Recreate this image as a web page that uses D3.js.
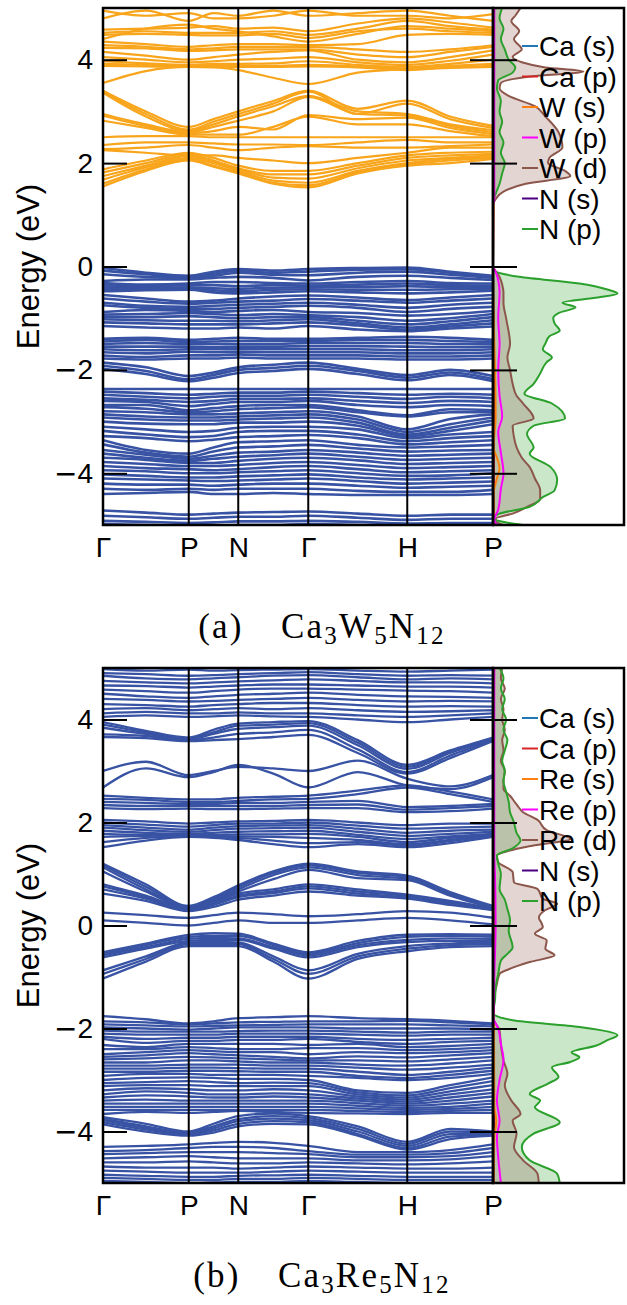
<!DOCTYPE html>
<html><head><meta charset="utf-8">
<script src="https://cdn.jsdelivr.net/npm/d3@7"></script>
<style>body{margin:0;background:#fff}svg{display:block}</style>
</head><body>
<svg id="c" width="627" height="1305"></svg>
<script>
// ---------- k-path ----------
const kLabels = ["Γ","P","N","Γ","H","P"];
const kNodes = [0, 0.866, 1.366, 2.073, 3.073, 3.939];
const kSamples = [0, 0.433, 0.866, 1.116, 1.366, 1.72, 2.073, 2.573, 3.073, 3.506, 3.939];
const yTicks = [-4, -2, 0, 2, 4];

// ---------- (a) Ca3W5N12 bands ----------
const bandsA_cond = [
 [3.40,3.00,2.70,2.85,3.00,3.20,3.40,3.05,3.21,2.90,2.72],
 [3.38,2.95,2.65,2.80,2.95,3.15,3.38,2.95,3.15,2.85,2.68],
 [3.36,2.90,2.62,2.75,2.90,3.10,3.30,3.00,2.95,2.75,2.64],
 [2.95,2.75,2.60,2.70,2.82,3.00,3.28,2.95,2.92,2.72,2.60],
 [2.92,2.72,2.58,2.62,2.70,2.65,2.93,2.85,2.88,2.68,2.56],
 [2.82,2.68,2.55,2.55,2.55,2.70,2.90,2.75,2.75,2.62,2.52],
 [2.50,2.52,2.52,2.50,2.50,2.50,2.50,2.50,2.50,2.50,2.50],
 [2.35,2.40,2.40,2.38,2.36,2.36,2.35,2.40,2.45,2.40,2.40],
 [2.27,2.30,2.35,2.30,2.25,2.30,2.33,2.30,2.30,2.33,2.36],
 [2.25,2.20,2.15,2.15,2.10,2.05,2.00,2.10,2.20,2.30,2.30],
 [1.88,2.05,2.20,2.10,1.95,1.85,1.85,2.00,2.15,2.20,2.22],
 [1.82,2.00,2.17,2.05,1.90,1.78,1.78,1.95,2.10,2.15,2.18],
 [1.75,1.95,2.14,2.02,1.88,1.72,1.70,1.90,2.05,2.10,2.15],
 [1.68,1.92,2.10,2.00,1.85,1.66,1.62,1.85,2.00,2.08,2.12],
 [1.60,1.88,2.08,1.95,1.82,1.62,1.57,1.82,1.97,2.05,2.10],
 [1.55,1.85,2.05,1.93,1.80,1.60,1.53,1.80,1.95,2.00,2.08],
 [4.80,4.95,4.75,4.90,4.85,4.95,4.85,4.90,4.95,4.85,4.75],
 [4.95,4.85,4.90,4.80,4.80,4.85,4.95,4.85,4.85,4.80,4.88],
 [4.58,4.60,4.62,4.65,4.60,4.62,4.55,4.70,4.80,4.72,4.62],
 [4.52,4.55,4.52,4.52,4.52,4.55,4.48,4.60,4.75,4.65,4.58],
 [4.48,4.50,4.48,4.47,4.47,4.50,4.42,4.55,4.60,4.55,4.52],
 [4.40,4.60,4.68,4.60,4.55,4.45,4.35,4.50,4.65,4.60,4.55],
 [4.35,4.30,4.25,4.28,4.30,4.30,4.28,4.30,4.48,4.50,4.48],
 [4.28,4.25,4.20,4.22,4.25,4.25,4.25,4.20,4.15,4.20,4.28],
 [4.23,4.22,4.17,4.18,4.20,4.20,4.20,4.10,4.05,4.15,4.25],
 [4.15,4.08,4.00,4.05,4.10,4.15,4.18,4.00,3.95,4.05,4.18],
 [4.05,4.00,3.95,3.97,4.00,4.02,4.05,3.95,3.90,3.98,4.10],
 [3.97,3.93,3.90,3.92,3.92,3.93,3.97,3.90,3.86,3.92,4.00],
 [3.92,3.90,3.88,3.88,3.88,3.88,3.90,3.87,3.83,3.88,3.92],
 [3.88,3.87,3.86,3.86,3.86,3.86,3.87,3.85,3.80,3.85,3.88],
 [3.55,3.78,3.86,3.85,3.80,3.65,3.53,3.75,3.82,3.84,3.86]
];
const bandsA_val = [
 [-0.03,-0.12,-0.18,-0.10,-0.05,-0.08,-0.05,-0.03,-0.02,-0.10,-0.18],
 [-0.08,-0.15,-0.20,-0.14,-0.08,-0.12,-0.10,-0.06,-0.05,-0.12,-0.20],
 [-0.15,-0.20,-0.22,-0.18,-0.12,-0.16,-0.17,-0.12,-0.10,-0.16,-0.22],
 [-0.28,-0.25,-0.25,-0.22,-0.20,-0.22,-0.27,-0.20,-0.18,-0.22,-0.26],
 [-0.32,-0.35,-0.33,-0.30,-0.30,-0.32,-0.33,-0.30,-0.28,-0.32,-0.33],
 [-0.36,-0.38,-0.36,-0.36,-0.38,-0.36,-0.37,-0.35,-0.33,-0.36,-0.37],
 [-0.40,-0.41,-0.40,-0.42,-0.43,-0.41,-0.40,-0.40,-0.38,-0.40,-0.40],
 [-0.44,-0.43,-0.42,-0.46,-0.48,-0.45,-0.44,-0.45,-0.45,-0.44,-0.43],
 [-0.48,-0.46,-0.45,-0.50,-0.52,-0.50,-0.48,-0.50,-0.52,-0.50,-0.47],
 [-0.55,-0.62,-0.68,-0.66,-0.62,-0.58,-0.56,-0.60,-0.65,-0.60,-0.55],
 [-0.62,-0.68,-0.72,-0.70,-0.68,-0.66,-0.63,-0.66,-0.70,-0.66,-0.62],
 [-0.70,-0.76,-0.78,-0.76,-0.74,-0.72,-0.70,-0.74,-0.80,-0.74,-0.70],
 [-0.75,-0.80,-0.82,-0.82,-0.80,-0.78,-0.76,-0.80,-0.88,-0.82,-0.78],
 [-0.88,-0.84,-0.86,-0.88,-0.86,-0.84,-0.88,-0.90,-0.95,-0.92,-0.86],
 [-0.93,-0.92,-0.90,-0.92,-0.94,-0.92,-0.94,-0.98,-1.05,-1.00,-0.92],
 [-0.98,-0.98,-0.96,-0.98,-1.00,-0.98,-0.98,-1.05,-1.12,-1.06,-0.98],
 [-1.02,-1.04,-1.05,-1.05,-1.06,-1.04,-1.02,-1.10,-1.18,-1.12,-1.04],
 [-1.08,-1.10,-1.12,-1.12,-1.12,-1.10,-1.08,-1.14,-1.22,-1.16,-1.10],
 [-1.15,-1.18,-1.20,-1.20,-1.18,-1.20,-1.15,-1.22,-1.25,-1.20,-1.16],
 [-1.40,-1.38,-1.42,-1.40,-1.38,-1.40,-1.40,-1.38,-1.36,-1.38,-1.42],
 [-1.45,-1.42,-1.46,-1.45,-1.44,-1.44,-1.44,-1.42,-1.42,-1.44,-1.46],
 [-1.50,-1.48,-1.50,-1.50,-1.50,-1.50,-1.48,-1.48,-1.48,-1.50,-1.50],
 [-1.55,-1.55,-1.55,-1.56,-1.55,-1.55,-1.54,-1.54,-1.55,-1.56,-1.55],
 [-1.60,-1.62,-1.60,-1.60,-1.60,-1.60,-1.60,-1.60,-1.62,-1.62,-1.60],
 [-1.66,-1.68,-1.65,-1.66,-1.65,-1.66,-1.66,-1.66,-1.68,-1.68,-1.66],
 [-1.72,-1.75,-1.72,-1.72,-1.70,-1.72,-1.72,-1.72,-1.74,-1.74,-1.72],
 [-1.78,-1.80,-1.78,-1.78,-1.76,-1.78,-1.78,-1.78,-1.80,-1.80,-1.78],
 [-1.86,-1.95,-2.12,-2.05,-1.95,-1.90,-1.86,-1.98,-2.10,-2.00,-2.12],
 [-1.92,-2.02,-2.18,-2.10,-2.00,-1.96,-1.92,-2.02,-2.15,-2.05,-2.18],
 [-1.98,-2.08,-2.22,-2.15,-2.06,-2.02,-1.98,-2.08,-2.20,-2.10,-2.22],
 [-2.37,-2.37,-2.37,-2.37,-2.37,-2.37,-2.37,-2.37,-2.37,-2.37,-2.37],
 [-2.42,-2.45,-2.48,-2.46,-2.44,-2.44,-2.42,-2.45,-2.48,-2.46,-2.48],
 [-2.48,-2.52,-2.55,-2.52,-2.50,-2.50,-2.48,-2.52,-2.56,-2.52,-2.55],
 [-2.55,-2.58,-2.62,-2.60,-2.56,-2.56,-2.55,-2.60,-2.64,-2.60,-2.62],
 [-2.60,-2.62,-2.70,-2.66,-2.62,-2.62,-2.60,-2.68,-2.72,-2.68,-2.70],
 [-2.68,-2.68,-2.78,-2.74,-2.70,-2.68,-2.68,-2.78,-2.88,-2.76,-2.78],
 [-2.72,-2.75,-2.82,-2.80,-2.76,-2.74,-2.72,-2.82,-2.90,-2.82,-2.82],
 [-2.80,-2.82,-2.86,-2.86,-2.84,-2.82,-2.80,-2.90,-3.15,-2.95,-2.86],
 [-2.86,-2.90,-2.92,-2.92,-2.90,-2.88,-2.86,-2.96,-3.20,-3.05,-2.92],
 [-2.92,-2.96,-2.98,-2.98,-2.96,-2.94,-2.92,-3.02,-3.25,-3.12,-2.98],
 [-3.00,-3.04,-3.05,-3.05,-3.02,-3.02,-3.00,-3.08,-3.28,-3.18,-3.05],
 [-3.10,-3.15,-3.20,-3.18,-3.12,-3.10,-3.10,-3.15,-3.32,-3.25,-3.20],
 [-3.18,-3.25,-3.30,-3.28,-3.20,-3.18,-3.18,-3.25,-3.38,-3.32,-3.28],
 [-3.28,-3.32,-3.38,-3.35,-3.30,-3.28,-3.26,-3.32,-3.44,-3.40,-3.36],
 [-3.36,-3.55,-3.62,-3.50,-3.40,-3.38,-3.36,-3.45,-3.50,-3.48,-3.45],
 [-3.44,-3.60,-3.68,-3.58,-3.50,-3.48,-3.45,-3.52,-3.58,-3.56,-3.55],
 [-3.55,-3.64,-3.72,-3.66,-3.60,-3.58,-3.55,-3.60,-3.66,-3.64,-3.62],
 [-3.62,-3.70,-3.76,-3.72,-3.68,-3.65,-3.62,-3.68,-3.74,-3.72,-3.70],
 [-3.70,-3.74,-3.80,-3.80,-3.76,-3.72,-3.70,-3.75,-3.82,-3.80,-3.78],
 [-3.78,-3.82,-3.86,-3.86,-3.84,-3.80,-3.78,-3.84,-3.90,-3.88,-3.86],
 [-3.86,-3.90,-3.92,-3.94,-3.92,-3.88,-3.86,-3.92,-3.98,-3.96,-3.94],
 [-3.94,-3.96,-4.00,-4.00,-3.98,-3.96,-3.94,-4.00,-4.05,-4.04,-4.00],
 [-4.02,-4.05,-4.08,-4.08,-4.06,-4.04,-4.02,-4.08,-4.12,-4.10,-4.08],
 [-4.10,-4.12,-4.14,-4.15,-4.14,-4.12,-4.10,-4.15,-4.20,-4.18,-4.16],
 [-4.20,-4.22,-4.22,-4.24,-4.22,-4.20,-4.20,-4.24,-4.28,-4.26,-4.24],
 [-4.30,-4.32,-4.30,-4.32,-4.30,-4.30,-4.30,-4.34,-4.36,-4.36,-4.32],
 [-4.40,-4.38,-4.36,-4.40,-4.40,-4.38,-4.40,-4.42,-4.42,-4.42,-4.40],
 [-4.72,-4.76,-4.80,-4.78,-4.76,-4.75,-4.74,-4.78,-4.82,-4.80,-4.80],
 [-4.82,-4.85,-4.88,-4.86,-4.84,-4.84,-4.82,-4.86,-4.90,-4.88,-4.88],
 [-4.92,-4.94,-4.96,-4.95,-4.93,-4.93,-4.92,-4.94,-4.97,-4.96,-4.96],
 [-4.98,-5.00,-5.02,-5.01,-5.00,-5.00,-4.98,-5.00,-5.02,-5.02,-5.02]
];

// ---------- (b) Ca3Re5N12 bands ----------
const bandsB = [
 [4.98,4.95,4.97,4.95,4.96,4.97,4.98,4.95,4.93,4.95,4.97],
 [4.90,4.88,4.85,4.86,4.88,4.90,4.92,4.88,4.85,4.86,4.85],
 [4.85,4.80,4.78,4.80,4.82,4.85,4.86,4.82,4.78,4.80,4.78],
 [4.75,4.72,4.70,4.72,4.74,4.76,4.78,4.75,4.72,4.72,4.70],
 [4.66,4.65,4.62,4.64,4.66,4.68,4.68,4.66,4.64,4.64,4.62],
 [4.58,4.55,4.52,4.55,4.58,4.60,4.60,4.58,4.56,4.55,4.52],
 [4.50,4.45,4.42,4.45,4.48,4.50,4.52,4.48,4.45,4.44,4.42],
 [4.40,4.38,4.35,4.36,4.38,4.40,4.42,4.38,4.35,4.36,4.35],
 [4.30,4.28,4.25,4.28,4.30,4.32,4.32,4.28,4.25,4.26,4.25],
 [4.20,4.22,4.18,4.20,4.22,4.20,4.22,4.18,4.15,4.16,4.18],
 [4.12,4.15,4.12,4.12,4.14,4.12,4.12,4.08,4.05,4.08,4.12],
 [4.05,4.08,4.05,4.06,4.08,4.06,4.05,4.00,3.95,4.00,4.05],
 [3.95,3.78,3.65,3.80,3.92,3.95,3.97,3.60,3.12,3.40,3.65],
 [3.90,3.75,3.63,3.75,3.88,3.90,3.93,3.55,3.08,3.38,3.63],
 [3.84,3.72,3.62,3.72,3.82,3.85,3.88,3.50,3.04,3.35,3.62],
 [3.71,3.68,3.60,3.65,3.72,3.75,3.80,3.42,2.98,3.30,3.60],
 [3.66,3.64,3.58,3.60,3.62,3.66,3.70,3.35,2.95,3.25,3.58],
 [3.00,3.18,2.92,3.00,3.08,3.05,3.00,3.20,2.85,2.70,2.92],
 [2.68,3.05,2.88,2.98,3.12,2.95,2.68,2.98,2.72,2.65,2.88],
 [2.52,2.48,2.45,2.45,2.48,2.50,2.52,2.62,2.72,2.60,2.45],
 [2.46,2.44,2.40,2.40,2.42,2.45,2.46,2.55,2.68,2.55,2.40],
 [2.40,2.38,2.36,2.36,2.38,2.38,2.40,2.42,2.30,2.32,2.36],
 [2.34,2.32,2.32,2.32,2.32,2.32,2.34,2.35,2.25,2.28,2.32],
 [2.28,2.26,2.27,2.26,2.26,2.27,2.28,2.28,2.20,2.22,2.27],
 [2.05,2.02,1.98,2.00,2.02,2.03,2.05,2.00,1.95,1.98,1.98],
 [2.00,1.96,1.92,1.95,1.98,1.98,2.00,1.94,1.88,1.90,1.92],
 [1.95,1.90,1.86,1.90,1.93,1.94,1.95,1.88,1.80,1.84,1.86],
 [1.90,1.85,1.82,1.85,1.88,1.89,1.90,1.82,1.74,1.78,1.82],
 [1.84,1.80,1.78,1.80,1.82,1.83,1.84,1.76,1.68,1.73,1.78],
 [1.78,1.76,1.76,1.76,1.77,1.77,1.78,1.72,1.62,1.70,1.76],
 [1.72,1.74,1.75,1.74,1.73,1.72,1.70,1.66,1.58,1.66,1.75],
 [1.62,1.70,1.74,1.72,1.70,1.65,1.60,1.62,1.55,1.64,1.74],
 [1.52,1.65,1.72,1.70,1.66,1.58,1.52,1.58,1.52,1.60,1.72],
 [1.20,0.80,0.38,0.55,0.78,1.05,1.20,1.05,0.97,0.65,0.38],
 [1.17,0.75,0.36,0.52,0.74,1.02,1.17,1.02,0.94,0.62,0.36],
 [1.13,0.70,0.35,0.50,0.70,0.98,1.13,0.98,0.91,0.60,0.35],
 [1.05,0.66,0.34,0.48,0.66,0.90,1.08,0.92,0.88,0.58,0.34],
 [0.80,0.58,0.33,0.45,0.62,0.70,0.80,0.70,0.60,0.48,0.33],
 [0.76,0.55,0.32,0.42,0.58,0.66,0.76,0.66,0.57,0.45,0.32],
 [0.70,0.52,0.30,0.40,0.55,0.63,0.72,0.62,0.54,0.42,0.31],
 [0.62,0.48,0.28,0.36,0.50,0.58,0.66,0.58,0.52,0.40,0.30],
 [0.25,0.20,0.15,0.20,0.25,0.22,0.18,0.22,0.28,0.25,0.15],
 [0.10,0.05,0.00,0.05,0.10,0.05,0.05,0.10,0.15,0.10,0.02],
 [-0.52,-0.35,-0.18,-0.15,-0.16,-0.35,-0.52,-0.30,-0.18,-0.17,-0.18],
 [-0.55,-0.38,-0.22,-0.20,-0.20,-0.38,-0.55,-0.34,-0.22,-0.20,-0.22],
 [-0.58,-0.42,-0.26,-0.24,-0.25,-0.42,-0.58,-0.38,-0.28,-0.25,-0.26],
 [-0.62,-0.45,-0.30,-0.28,-0.28,-0.45,-0.62,-0.42,-0.32,-0.30,-0.30],
 [-0.87,-0.60,-0.33,-0.32,-0.33,-0.60,-0.87,-0.55,-0.40,-0.35,-0.33],
 [-0.94,-0.65,-0.36,-0.36,-0.36,-0.65,-0.94,-0.60,-0.45,-0.38,-0.36],
 [-1.03,-0.70,-0.40,-0.40,-0.40,-0.70,-1.03,-0.65,-0.50,-0.42,-0.40],
 [-1.76,-1.82,-1.90,-1.86,-1.80,-1.78,-1.76,-1.80,-1.82,-1.85,-1.90],
 [-1.86,-1.88,-1.92,-1.90,-1.88,-1.87,-1.86,-1.86,-1.85,-1.88,-1.92],
 [-1.92,-1.94,-1.96,-1.95,-1.94,-1.93,-1.92,-1.92,-1.92,-1.94,-1.96],
 [-1.98,-2.00,-2.02,-2.00,-1.98,-1.98,-1.98,-2.00,-2.00,-2.00,-2.02],
 [-2.04,-2.06,-2.06,-2.06,-2.05,-2.04,-2.04,-2.06,-2.08,-2.06,-2.06],
 [-2.10,-2.12,-2.12,-2.12,-2.10,-2.10,-2.10,-2.12,-2.14,-2.12,-2.12],
 [-2.16,-2.20,-2.18,-2.18,-2.16,-2.16,-2.16,-2.20,-2.22,-2.20,-2.18],
 [-2.20,-2.28,-2.24,-2.24,-2.22,-2.22,-2.20,-2.26,-2.30,-2.26,-2.24],
 [-2.32,-2.36,-2.30,-2.30,-2.30,-2.30,-2.32,-2.30,-2.36,-2.34,-2.30],
 [-2.40,-2.40,-2.36,-2.38,-2.40,-2.40,-2.38,-2.38,-2.42,-2.40,-2.36],
 [-2.50,-2.46,-2.42,-2.44,-2.46,-2.46,-2.50,-2.46,-2.48,-2.46,-2.42],
 [-2.55,-2.52,-2.48,-2.50,-2.52,-2.55,-2.58,-2.54,-2.56,-2.52,-2.48],
 [-2.60,-2.58,-2.55,-2.56,-2.58,-2.60,-2.62,-2.62,-2.64,-2.60,-2.55],
 [-2.66,-2.66,-2.62,-2.62,-2.64,-2.66,-2.66,-2.70,-2.72,-2.68,-2.62],
 [-2.72,-2.72,-2.70,-2.70,-2.70,-2.72,-2.72,-2.76,-2.80,-2.76,-2.70],
 [-2.78,-2.78,-2.76,-2.76,-2.77,-2.78,-2.78,-2.84,-2.90,-2.84,-2.76],
 [-2.84,-2.84,-2.82,-2.82,-2.83,-2.84,-2.84,-2.92,-2.96,-2.90,-2.82],
 [-2.92,-2.88,-2.88,-2.90,-2.90,-2.90,-2.92,-2.96,-3.00,-2.96,-2.88],
 [-3.00,-2.96,-2.95,-2.96,-2.98,-2.98,-3.00,-3.20,-3.25,-3.10,-2.95],
 [-3.06,-3.04,-3.02,-3.04,-3.06,-3.05,-3.06,-3.24,-3.30,-3.16,-3.02],
 [-3.12,-3.10,-3.10,-3.12,-3.12,-3.12,-3.12,-3.28,-3.34,-3.22,-3.10],
 [-3.20,-3.16,-3.18,-3.20,-3.20,-3.18,-3.20,-3.32,-3.38,-3.28,-3.18],
 [-3.28,-3.22,-3.25,-3.28,-3.28,-3.26,-3.28,-3.36,-3.42,-3.34,-3.25],
 [-3.34,-3.30,-3.32,-3.34,-3.34,-3.32,-3.34,-3.40,-3.46,-3.40,-3.32],
 [-3.40,-3.38,-3.40,-3.40,-3.40,-3.40,-3.40,-3.45,-3.50,-3.46,-3.40],
 [-3.46,-3.46,-3.46,-3.46,-3.46,-3.46,-3.46,-3.50,-3.54,-3.52,-3.46],
 [-3.52,-3.52,-3.52,-3.52,-3.52,-3.52,-3.52,-3.55,-3.58,-3.56,-3.52],
 [-3.58,-3.58,-3.58,-3.58,-3.58,-3.58,-3.58,-3.60,-3.62,-3.60,-3.58],
 [-3.66,-3.62,-3.64,-3.62,-3.60,-3.62,-3.64,-3.65,-3.66,-3.64,-3.64],
 [-3.72,-3.85,-4.00,-3.85,-3.70,-3.65,-3.70,-3.90,-4.20,-3.95,-4.00],
 [-3.75,-3.90,-4.02,-3.90,-3.76,-3.70,-3.74,-3.95,-4.24,-4.00,-4.02],
 [-3.78,-3.93,-4.04,-3.94,-3.80,-3.75,-3.78,-4.00,-4.28,-4.05,-4.04],
 [-3.82,-3.96,-4.06,-3.98,-3.85,-3.80,-3.82,-4.05,-4.32,-4.10,-4.06],
 [-3.86,-4.00,-4.08,-4.02,-3.90,-3.85,-3.86,-4.08,-4.35,-4.15,-4.08],
 [-4.30,-4.28,-4.25,-4.22,-4.20,-4.22,-4.28,-4.40,-4.40,-4.36,-4.25],
 [-4.38,-4.36,-4.32,-4.30,-4.30,-4.32,-4.38,-4.45,-4.45,-4.42,-4.32],
 [-4.44,-4.42,-4.40,-4.40,-4.40,-4.42,-4.44,-4.50,-4.50,-4.48,-4.40],
 [-4.52,-4.50,-4.48,-4.50,-4.52,-4.52,-4.52,-4.56,-4.56,-4.54,-4.48],
 [-4.60,-4.60,-4.58,-4.60,-4.62,-4.62,-4.60,-4.62,-4.64,-4.62,-4.58],
 [-4.68,-4.70,-4.70,-4.70,-4.72,-4.70,-4.68,-4.70,-4.72,-4.72,-4.70],
 [-4.76,-4.78,-4.80,-4.80,-4.80,-4.78,-4.76,-4.78,-4.80,-4.80,-4.80],
 [-4.84,-4.86,-4.88,-4.88,-4.86,-4.85,-4.84,-4.86,-4.88,-4.88,-4.88],
 [-4.90,-4.92,-4.94,-4.94,-4.92,-4.92,-4.90,-4.92,-4.94,-4.94,-4.94],
 [-4.96,-4.98,-5.00,-4.99,-4.98,-4.98,-4.96,-4.98,-5.00,-5.00,-5.00]
];

// ---------- PDOS (energy, states) ----------
const dosA_Ca_s = [[5,0.05],[0,0.0],[-2,0.05],[-5,0.05]];
const dosA_Ca_p = [[5,0.08],[1.5,0.05],[0,0.0],[-3,0.08],[-5,0.06]];
const dosA_W_s  = [[5,0.05],[1.3,0.03],[0,0],[-2.9,0.2],[-3.5,0.05],[-3.7,0.3],[-3.9,0.5],[-4.1,0.3],[-4.4,0.05],[-5,0.05]];
const dosA_W_p  = [[5,0.1],[1.3,0.1],[1.2,0],[0,0],[-0.1,0.2],[-0.5,0.5],[-1,0.4],[-1.5,0.5],[-2,0.4],[-2.5,0.5],[-2.9,0.7],[-3.2,0.4],[-3.6,0.6],[-4.0,0.8],[-4.3,0.6],[-4.7,0.4],[-4.9,0.1],[-5,0.3]];
const dosA_W_d  = [[5.0,2.1],[4.85,1.7],[4.75,1.4],[4.55,2.0],[4.4,1.6],[4.2,2.2],[4.05,1.5],[3.95,2.2],[3.85,4.0],[3.77,6.9],[3.68,3.0],[3.55,0.6],[3.45,0.5],[3.3,1.2],[3.1,3.2],[2.9,4.0],[2.6,5.0],[2.3,5.3],[2.1,4.3],[2.0,4.2],[1.85,5.5],[1.75,5.9],[1.6,2.5],[1.45,0.8],[1.3,0.2],[1.2,0],[0,0],[-0.05,0.1],[-0.2,0.5],[-0.35,0.7],[-0.5,0.8],[-0.7,0.8],[-1.0,1.0],[-1.5,1.3],[-1.76,1.1],[-2.0,1.3],[-2.27,1.5],[-2.5,1.8],[-2.65,2.3],[-2.94,3.1],[-3.08,1.5],[-3.3,1.6],[-3.5,1.8],[-3.7,2.2],[-3.88,2.8],[-4.1,3.2],[-4.33,3.6],[-4.5,3.6],[-4.65,2.6],[-4.78,1.5],[-4.88,0.2],[-4.95,0.3],[-5.0,0.8]];
const dosA_N_s  = [[5,0.02],[0,0],[-4.8,0.02],[-5,0.1]];
const dosA_N_p  = [[5.0,0.7],[4.8,0.5],[4.6,0.8],[4.4,0.6],[4.2,0.9],[4.0,1.2],[3.85,1.7],[3.75,1.5],[3.6,0.4],[3.45,0.3],[3.2,0.6],[3.0,0.5],[2.8,0.7],[2.6,0.5],[2.4,0.8],[2.2,0.6],[2.0,0.9],[1.8,0.7],[1.6,0.5],[1.4,0.2],[1.25,0.0],[0,0],[-0.08,0.1],[-0.2,2.0],[-0.33,6.6],[-0.45,8.8],[-0.52,9.5],[-0.6,8.0],[-0.7,5.3],[-0.79,6.3],[-0.9,5.0],[-1.0,4.6],[-1.1,4.7],[-1.24,5.1],[-1.35,4.3],[-1.49,4.0],[-1.6,3.8],[-1.76,4.5],[-1.85,4.1],[-2.07,3.6],[-2.27,3.1],[-2.46,2.4],[-2.65,4.5],[-2.94,5.5],[-3.08,3.1],[-3.24,2.6],[-3.5,3.1],[-3.62,2.8],[-3.88,4.4],[-4.13,4.9],[-4.33,4.7],[-4.46,3.8],[-4.65,2.8],[-4.78,0.5],[-4.88,0.0],[-4.95,1.0],[-5.0,2.3]];

const dosB_Ca_s = [[5,0.05],[0,0.03],[-2,0.05],[-5,0.05]];
const dosB_Ca_p = [[5,0.08],[0,0.05],[-3,0.08],[-5,0.06]];
const dosB_Re_s = [[5,0.05],[0,0.05],[-3.5,0.1],[-3.8,0.25],[-4.1,0.1],[-5,0.05]];
const dosB_Re_p = [[5,0.1],[1.4,0.1],[1.0,0.15],[0,0.2],[-1.0,0.1],[-1.8,0.05],[-2.0,0.4],[-2.3,0.6],[-2.6,0.8],[-3.0,0.5],[-3.4,0.3],[-3.8,0.5],[-4.1,0.3],[-4.5,0.4],[-5,0.6]];
const dosB_Re_d = [[5.0,0.7],[4.8,0.6],[4.6,0.9],[4.4,0.6],[4.2,0.8],[4.0,0.7],[3.8,0.9],[3.6,0.7],[3.4,0.8],[3.2,0.6],[3.0,0.9],[2.8,0.8],[2.65,0.8],[2.52,1.3],[2.35,1.8],[2.2,2.3],[2.05,3.4],[1.85,4.1],[1.68,5.9],[1.55,3.0],[1.45,1.2],[1.36,0.3],[1.23,0.4],[1.04,1.5],[0.84,1.6],[0.71,3.4],[0.52,3.8],[0.42,4.9],[0.3,4.0],[0.15,3.5],[0.05,3.7],[-0.03,3.8],[-0.16,3.2],[-0.29,4.1],[-0.45,4.0],[-0.58,4.7],[-0.71,2.8],[-0.85,1.2],[-0.94,0.5],[-1.13,0.3],[-1.39,0.1],[-1.8,0.0],[-1.9,0.2],[-2.04,0.5],[-2.3,0.6],[-2.62,0.8],[-2.88,1.1],[-3.1,0.9],[-3.4,1.4],[-3.66,2.1],[-3.79,1.5],[-4.04,1.8],[-4.3,1.6],[-4.56,2.3],[-4.82,3.4],[-5.0,3.5]];
const dosB_N_s  = [[5,0.02],[0,0.02],[-5,0.05]];
const dosB_N_p  = [[5.0,0.5],[4.8,0.8],[4.6,0.6],[4.4,0.9],[4.2,0.7],[4.0,1.0],[3.8,0.8],[3.6,1.1],[3.4,0.9],[3.2,0.7],[3.0,0.9],[2.8,0.8],[2.6,1.0],[2.4,1.2],[2.2,1.3],[2.0,1.6],[1.8,1.8],[1.65,2.1],[1.5,1.5],[1.36,0.3],[1.2,0.4],[1.0,0.6],[0.71,0.5],[0.5,0.9],[0.32,1.1],[0.1,1.3],[-0.1,1.2],[-0.42,1.5],[-0.55,1.1],[-0.68,0.6],[-0.94,0.4],[-1.2,0.2],[-1.46,0.15],[-1.7,0.0],[-1.84,1.5],[-1.97,6.6],[-2.13,9.5],[-2.23,8.7],[-2.33,7.9],[-2.46,6.0],[-2.56,6.6],[-2.65,5.9],[-2.75,4.5],[-2.94,5.0],[-3.07,4.2],[-3.27,2.8],[-3.4,3.6],[-3.53,3.2],[-3.82,5.1],[-4.04,3.1],[-4.3,2.2],[-4.56,2.8],[-4.82,4.9],[-5.0,5.1]];

const legendA = ["Ca (s)","Ca (p)","W (s)","W (p)","W (d)","N (s)","N (p)"];
const legendB = ["Ca (s)","Ca (p)","Re (s)","Re (p)","Re (d)","N (s)","N (p)"];
const orbColors = ["#1f77b4","#d62728","#ff7f0e","#ff00ff","#8c564b","#4b0082","#2ca02c"];

// ---------- drawing ----------
const svg = d3.select("#c");
const defs = svg.append("defs");
const SANS = "'Liberation Sans', Arial, Helvetica, sans-serif";
const FS = 28;

function panel(o) {
  const y = d3.scaleLinear().domain([-5, 5]).range([o.bottom, o.top]);
  const xk = d3.scaleLinear().domain([0, kNodes[kNodes.length - 1]]).range([103, 493]);
  const xd = d3.scaleLinear().domain([0, 10]).range([493, 624]);
  const g = svg.append("g");

  defs.append("clipPath").attr("id", "cb" + o.id).append("rect")
    .attr("x", 103).attr("y", o.top).attr("width", 390).attr("height", o.bottom - o.top);
  defs.append("clipPath").attr("id", "cd" + o.id).append("rect")
    .attr("x", 493).attr("y", o.top).attr("width", 131).attr("height", o.bottom - o.top);

  const line = d3.line().x((d, i) => xk(kSamples[i])).y(d => y(d)).curve(d3.curveMonotoneX);
  const gb = g.append("g").attr("clip-path", `url(#cb${o.id})`);
  o.bandSets.forEach(s => {
    gb.append("g").selectAll("path").data(s.data).join("path")
      .attr("d", line).attr("fill", "none").attr("stroke", s.color)
      .attr("stroke-width", s.width);
  });

  // high-symmetry verticals
  g.append("g").selectAll("line").data(kNodes.slice(1, -1)).join("line")
    .attr("x1", d => xk(d)).attr("x2", d => xk(d)).attr("y1", o.top).attr("y2", o.bottom)
    .attr("stroke", "#000").attr("stroke-width", 2);

  // PDOS
  const gd = g.append("g").attr("clip-path", `url(#cd${o.id})`);
  const srt = a => a.slice().sort((p, q) => p[0] - q[0]);
  const area = d3.area().y(d => y(d[0])).x0(xd(0)).x1(d => xd(d[1])).curve(d3.curveMonotoneY);
  const dline = d3.line().y(d => y(d[0])).x(d => xd(d[1])).curve(d3.curveMonotoneY);
  gd.append("path").attr("d", area(srt(o.dos[6]))).attr("fill", "#2ca02c").attr("fill-opacity", 0.25);
  gd.append("path").attr("d", area(srt(o.dos[4]))).attr("fill", "#8c564b").attr("fill-opacity", 0.25);
  [0, 1, 5, 2, 4, 6, 3].forEach(i => {
    gd.append("path").attr("d", dline(srt(o.dos[i]))).attr("fill", "none")
      .attr("stroke", orbColors[i]).attr("stroke-width", 2);
  });

  // axes
  const ax = g.append("g").attr("transform", "translate(103,0)")
    .call(d3.axisLeft(y).tickValues(yTicks).tickSize(-24).tickPadding(10).tickFormat(d => "" + Math.abs(d)));
  g.append("g").attr("transform", "translate(493,0)")
    .call(d3.axisRight(y).tickValues(yTicks).tickSize(-23).tickFormat(""));
  g.append("g").attr("transform", "translate(493,0)")
    .call(d3.axisLeft(y).tickValues(yTicks).tickSize(-24).tickFormat(""));
  const axb = g.append("g").attr("transform", `translate(0,${o.bottom})`)
    .call(d3.axisBottom(xk).tickValues(kNodes).tickSize(0).tickPadding(12).tickFormat((d, i) => kLabels[i]));
  g.selectAll(".domain").remove();
  g.selectAll(".tick line").attr("stroke", "#000").attr("stroke-width", 2);
  [ax, axb].forEach(a => a.selectAll("text").attr("font-family", SANS).attr("font-size", FS).attr("fill", "#000"));
  ax.selectAll(".tick text").each(function (d) {
    if (d < 0) {
      const t = d3.select(this);
      t.text("");
      t.append("tspan").attr("font-family", "'DejaVu Sans', sans-serif").text("\u2212");
      t.append("tspan").text(Math.abs(d));
    }
  });

  // frames
  g.append("rect").attr("x", 103).attr("y", o.top).attr("width", 390).attr("height", o.bottom - o.top)
    .attr("fill", "none").attr("stroke", "#000").attr("stroke-width", 2.5);
  g.append("rect").attr("x", 493).attr("y", o.top).attr("width", 131).attr("height", o.bottom - o.top)
    .attr("fill", "none").attr("stroke", "#000").attr("stroke-width", 2.5);

  // y label
  g.append("text").attr("transform", `translate(39,${(o.top + o.bottom) / 2}) rotate(-90)`)
    .attr("text-anchor", "middle").attr("font-family", SANS).attr("font-size", 31).text("Energy (eV)");

  // legend
  const lg = g.append("g");
  o.legend.forEach((t, i) => {
    const yy = o.legTop + i * o.legStep;
    lg.append("line").attr("x1", 522).attr("x2", 538).attr("y1", yy).attr("y2", yy)
      .attr("stroke", orbColors[i]).attr("stroke-width", 2);
    lg.append("text").attr("x", 539).attr("y", yy).attr("dy", "0.36em")
      .attr("font-family", SANS).attr("font-size", FS).text(t);
  });

  // caption
  const cap = g.append("text").attr("x", o.capX).attr("y", o.capY).attr("text-anchor", "middle")
    .attr("font-family", "'Liberation Serif', 'DejaVu Serif', serif").attr("font-size", 35)
    .attr("letter-spacing", 2.2);
  o.caption.forEach(p => {
    const ts = cap.append("tspan").text(p.t);
    if (p.sub) ts.attr("font-size", 25).attr("dy", 6);
    else if (p.after) ts.attr("dy", -6);
  });
}

panel({
  id: "a", top: 8, bottom: 525,
  bandSets: [{data: bandsA_val, color: "#3953a4", width: 2.6}, {data: bandsA_cond, color: "#f8a51c", width: 2.2}],
  dos: [dosA_Ca_s, dosA_Ca_p, dosA_W_s, dosA_W_p, dosA_W_d, dosA_N_s, dosA_N_p],
  legend: legendA, legTop: 46, legStep: 30.5,
  capX: 322, capY: 638,
  caption: [{t: "(a)\u2003Ca"}, {t: "3", sub: true}, {t: "W", after: true}, {t: "5", sub: true}, {t: "N", after: true}, {t: "12", sub: true}]
});
panel({
  id: "b", top: 668, bottom: 1183,
  bandSets: [{data: bandsB, color: "#3953a4", width: 2.3}],
  dos: [dosB_Ca_s, dosB_Ca_p, dosB_Re_s, dosB_Re_p, dosB_Re_d, dosB_N_s, dosB_N_p],
  legend: legendB, legTop: 718, legStep: 30.5,
  capX: 322, capY: 1287,
  caption: [{t: "(b)\u2003Ca"}, {t: "3", sub: true}, {t: "Re", after: true}, {t: "5", sub: true}, {t: "N", after: true}, {t: "12", sub: true}]
});
</script>
</body></html>
